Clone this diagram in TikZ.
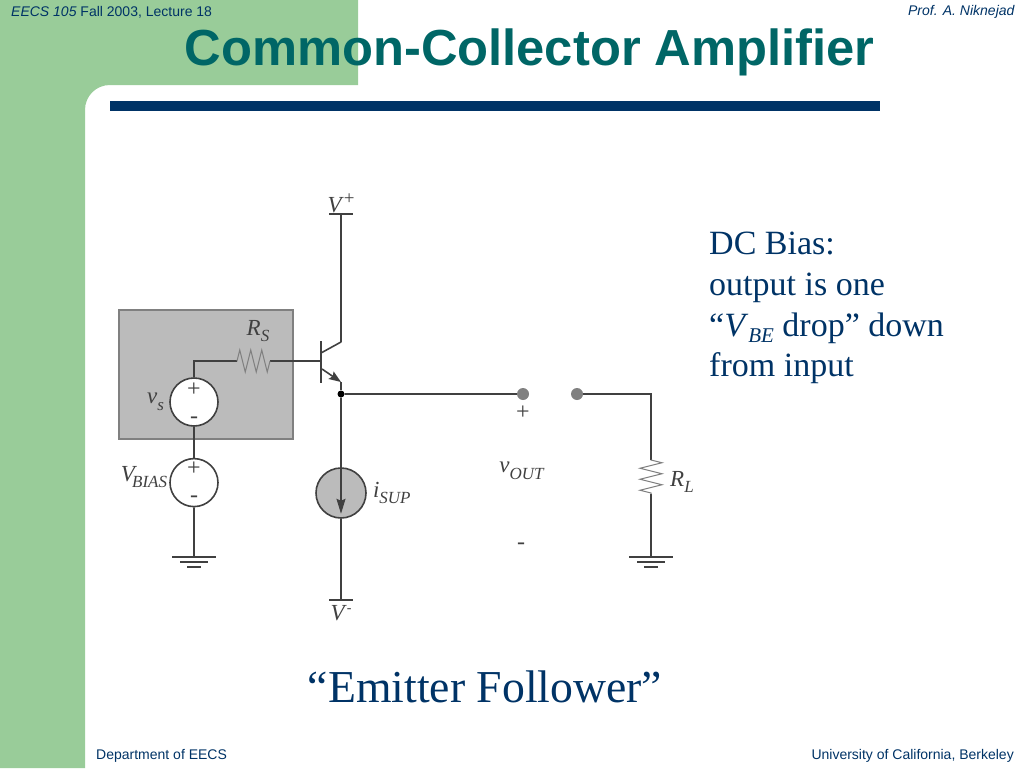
\documentclass[tikz,border=0pt]{standalone}
\usepackage{fontspec}
\setmainfont{Liberation Serif}
\newfontfamily\headfont{Liberation Sans}
\usepackage{tikz}
\usetikzlibrary{positioning,arrows.meta,decorations.pathmorphing}
\definecolor{slidegreen}{HTML}{99CC99}
\definecolor{slidenavy}{HTML}{003366}
\definecolor{slideteal}{HTML}{006666}
\definecolor{boxgray}{HTML}{BBBBBB}
\definecolor{wiregray}{HTML}{404040}
\newcommand{\cktlabel}[3][0pt]{\textit{#2}\kern#1\raisebox{-0.3em}{\fontsize{17}{17}\selectfont\textit{#3}}}
\tikzset{
	source node/.style={circle,draw=wiregray,fill=white,line width=1.6pt,minimum size=48pt,inner sep=0pt},
	isrc node/.style={source node,fill=boxgray,minimum size=50pt},
	term node/.style={circle,fill=gray,minimum size=12pt,inner sep=0pt},
	dot node/.style={circle,fill=black,minimum size=7pt,inner sep=0pt},
	ckt text/.style={text=wiregray,font=\fontsize{23}{23}\selectfont,inner sep=0pt},
	sign text/.style={text=wiregray,font=\fontsize{24}{24}\selectfont,inner sep=0pt},
	body text/.style={text=slidenavy,font=\fontsize{34}{40.7}\selectfont,align=left,inner sep=0pt},
	head text/.style={text=slidenavy,font=\headfont\fontsize{14}{14}\selectfont,inner sep=0pt},
	wire/.style={draw=wiregray,line width=1.6pt},
	rail/.style={draw=wiregray,line width=1.8pt},
	res/.style={draw=gray,line width=1pt,decorate,decoration={zigzag,segment length=11pt,amplitude=#1}},
}
\begin{document}
\begin{tikzpicture}[x=1pt,y=-1pt]
	\useasboundingbox (0,0) rectangle (1024,768);

	%% slide background
	\fill[slidegreen] (0,0) -- (358,0) -- (358,85) -- (110,85) .. controls (96,85) and (85,96) .. (85,110) -- (85,768) -- (0,768) -- cycle;
	\fill[slidenavy] (110,101) rectangle (880,111);
	\node[text=slideteal,font=\headfont\bfseries\fontsize{50.7}{51}\selectfont,inner sep=0pt] (title) at (529.5,52) {Common-Collector Amplifier};
	\node[head text,anchor=west] (course) at (11,12) {\textit{EECS 105} Fall 2003, Lecture 18};
	\node[head text,anchor=east] (prof) at (1015,12) {\textit{Prof. A. Niknejad}};
	\node[head text,anchor=west] (dept) at (96,756) {Department of EECS};
	\node[head text,anchor=east] (univ) at (1014,756) {University of California, Berkeley};

	%% gray source box
	\draw[fill=boxgray,draw=gray,line width=1.5pt] (119,310) rectangle (293,439);

	%% sources
	\node[source node] (vs) at (194,402) {};
	\node[source node] (vbias) [below = 31pt of vs] {};
	\node[isrc node] (isup) at (341,493) {};

	%% transistor and rails
	\coordinate (vplus) at (341,214);
	\coordinate (vplusl) at (329,214);
	\coordinate (vplusr) at (353,214);
	\coordinate (collwire) at (341,298);
	\coordinate (coll) at (341,342);
	\coordinate (collbase) at (321,353);
	\coordinate (basetop) at (321,341);
	\coordinate (basebot) at (321,383);
	\coordinate (base) at (321,361);
	\coordinate (emitbase) at (322,369);
	\coordinate (emit) at (341,382);
	\node[dot node] (out) at (341,394) {};
	\coordinate (vminus) at (341,600);
	\coordinate (vminusl) at (329,600);
	\coordinate (vminusr) at (353,600);

	%% output terminals
	\node[term node] (t1) at (523,394) {};
	\node[term node] (t2) at (577,394) {};
	\coordinate (corner) at (651,394);
	\coordinate (rltop) at (651,460);
	\coordinate (rlbot) at (651,494);

	%% resistor RS
	\coordinate (rsleft) at (237,361);
	\coordinate (rsright) at (270,361);
	\coordinate (rscorner) at (194,361);

	%% grounds
	\coordinate (gnd1) at (194,557);
	\coordinate (gnd2) at (651,557);

	\path[wire]
	(vs.north) -- (rscorner) -- (rsleft)
	(rsright) -- (base)
	(vs.south) -- (vbias.north)
	(vbias.south) -- (gnd1)
	(vplus) -- (coll)
	(collbase) -- (coll)
	(out) -- (isup.north)
	(isup.south) -- (vminus)
	(out) -- (t1)
	(t2) -- (corner) -- (rltop)
	(rlbot) -- (gnd2)
	;
	\draw[wire,line width=2.2pt] (collwire) -- (coll);
	\draw[rail] (vplusl) -- (vplusr);
	\draw[rail] (vminusl) -- (vminusr);
	\draw[rail] (basetop) -- (basebot);
	\draw[wire,-{Stealth[length=12pt,width=9pt,inset=2pt]}] (emitbase) -- (emit);
	\draw[wire] (emit) -- (out);
	\draw[wire,-{Stealth[length=15pt,width=9pt,inset=2pt]}] (isup.north) -- ([yshift=5pt]isup.south);
	\draw[res=11pt] (rsleft) -- (rsright);
	\draw[res=11pt] (rltop) -- (rlbot);

	%% ground bars
	\foreach \g in {gnd1,gnd2} {
		\draw[wire] ([xshift=-22pt]\g) -- ([xshift=22pt]\g);
		\draw[wire] ([xshift=-14pt,yshift=-5pt]\g) -- ([xshift=14pt,yshift=-5pt]\g);
		\draw[wire] ([xshift=-7pt,yshift=-10pt]\g) -- ([xshift=7pt,yshift=-10pt]\g);
	}

	%% labels
	\node[ckt text] (vpluslabel) [above = 1pt of vplus] {\textit{V}\raisebox{0.35em}{\fontsize{19}{19}\selectfont +}};
	\node[ckt text] (vminuslabel) [below = 5pt of vminus] {\textit{V}\raisebox{0.35em}{\fontsize{14}{14}\selectfont -}};
	\node[ckt text] (rslabel) at (258,331) {\cktlabel{R}{S}};
	\node[ckt text] (vslabel) [left = 5pt of vs] {\cktlabel{v}{s}};
	\node[ckt text] (vbiaslabel) at (144,477) {\cktlabel[-5pt]{V}{BIAS}};
	\node[ckt text,anchor=west] (isuplabel) [right = 6pt of isup] {\cktlabel{i}{SUP}};
	\node[ckt text] (voutlabel) at (522,471) {\cktlabel{v}{OUT}};
	\node[ckt text,anchor=west] (rllabel) at (670,482) {\cktlabel{R}{L}};
	\node[sign text] (tplus) [below = 6pt of t1] {+};
	\node[sign text] (tminus) at (521,546) {-};
	\node[sign text] (vsplus) at (194,390) {+};
	\node[sign text] (vsminus) at (194,420) {-};
	\node[sign text] (vbplus) at (194,469) {+};
	\node[sign text] (vbminus) at (194,499) {-};

	%% slide text
	\node[body text,anchor=north west] (bias) at (709,232) {DC Bias:\\output is one\\``\textit{V}\raisebox{-0.2em}{\fontsize{21}{21}\selectfont\textit{BE}} drop'' down\\from input};
	\node[text=slidenavy,font=\fontsize{45.7}{45.7}\selectfont,inner sep=0pt] (follower) at (485,687) {``Emitter Follower''};
\end{tikzpicture}
\end{document}
